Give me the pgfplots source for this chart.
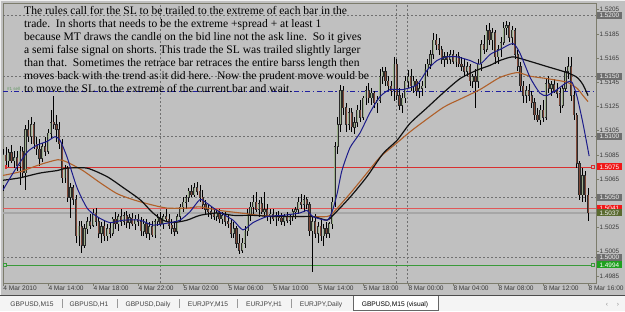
\documentclass[border=0pt]{standalone}
\usepackage{pgfplots}
\pgfplotsset{compat=1.18}
\usepackage{pgfplotstable}
\usepackage{fontspec}
\setmainfont{Liberation Sans}
\newfontfamily\tnr{Liberation Serif}
\definecolor{chartbg}{HTML}{C0C0C0}
\definecolor{axiscol}{HTML}{7C7C6C}
\definecolor{labcol}{HTML}{3A3A3A}
\definecolor{gridcol}{HTML}{707070}
\definecolor{bullfill}{HTML}{9CB08C}
\definecolor{bearfill}{HTML}{804838}
\definecolor{bodyedge}{HTML}{2A2A2A}
\definecolor{maBlue}{HTML}{1C1C8A}
\definecolor{maBrown}{HTML}{B0602A}
\definecolor{maBlack}{HTML}{101010}
\definecolor{lvlRed}{HTML}{D83030}
\definecolor{lvlRed2}{HTML}{E05858}
\definecolor{lvlGreen}{HTML}{3A9A3A}
\definecolor{lvlBlue}{HTML}{2020A0}
\definecolor{bidgray}{HTML}{A6A6A6}
\definecolor{boxgray}{HTML}{6E6E6E}
\definecolor{boxolive}{HTML}{5A6A30}
\definecolor{boxred}{HTML}{F01818}
\definecolor{boxgreen}{HTML}{20A020}
\definecolor{tabbg}{HTML}{F4F4F4}

\pgfplotstableread{
i o h l c
0 1.5060 1.5090 1.5055 1.5085
1 1.5085 1.5092 1.5076 1.5080
2 1.5080 1.5090 1.5075 1.5087
3 1.5087 1.5093 1.5078 1.5080
4 1.5080 1.5088 1.5074 1.5083
5 1.5083 1.5088 1.5072 1.5076
6 1.5076 1.5092 1.5060 1.5088
7 1.5088 1.5092 1.5066 1.5070
8 1.5070 1.5110 1.5056 1.5106
9 1.5106 1.5114 1.5096 1.5100
10 1.5100 1.5116 1.5094 1.5110
11 1.5110 1.5112 1.5090 1.5094
12 1.5094 1.5100 1.5085 1.5090
13 1.5090 1.5098 1.5076 1.5082
14 1.5082 1.5095 1.5079 1.5092
15 1.5092 1.5100 1.5084 1.5088
16 1.5088 1.5106 1.5086 1.5103
17 1.5103 1.5122 1.5098 1.5112
18 1.5112 1.5134 1.5106 1.5110
19 1.5110 1.5118 1.5096 1.5106
20 1.5106 1.5112 1.5090 1.5094
21 1.5094 1.5098 1.5062 1.5066
22 1.5066 1.5077 1.5062 1.5074
23 1.5074 1.5076 1.5046 1.5050
24 1.5050 1.5062 1.5033 1.5058
25 1.5058 1.5060 1.5044 1.5048
26 1.5048 1.5052 1.5012 1.5018
27 1.5018 1.5030 1.5010 1.5026
28 1.5026 1.5030 1.5004 1.5010
29 1.5010 1.5028 1.5008 1.5024
30 1.5024 1.5034 1.5020 1.5030
31 1.5030 1.5036 1.5024 1.5027
32 1.5027 1.5040 1.5025 1.5037
33 1.5037 1.5041 1.5026 1.5030
34 1.5030 1.5034 1.5016 1.5020
35 1.5020 1.5030 1.5012 1.5026
36 1.5026 1.5030 1.5014 1.5018
37 1.5018 1.5028 1.5014 1.5024
38 1.5024 1.5030 1.5016 1.5020
39 1.5020 1.5034 1.5018 1.5032
40 1.5032 1.5038 1.5024 1.5028
41 1.5028 1.5036 1.5022 1.5034
42 1.5034 1.5040 1.5026 1.5030
43 1.5030 1.5038 1.5027 1.5035
44 1.5035 1.5039 1.5025 1.5029
45 1.5029 1.5036 1.5024 1.5033
46 1.5033 1.5037 1.5026 1.5028
47 1.5028 1.5035 1.5023 1.5032
48 1.5032 1.5036 1.5026 1.5030
49 1.5030 1.5034 1.5018 1.5022
50 1.5022 1.5032 1.5018 1.5028
51 1.5028 1.5032 1.5016 1.5020
52 1.5020 1.5030 1.5015 1.5026
53 1.5026 1.5030 1.5017 1.5019
54 1.5019 1.5032 1.5016 1.5030
55 1.5030 1.5036 1.5026 1.5033
56 1.5033 1.5038 1.5026 1.5028
57 1.5028 1.5036 1.5024 1.5034
58 1.5034 1.5040 1.5030 1.5032
59 1.5032 1.5036 1.5024 1.5027
60 1.5027 1.5032 1.5020 1.5024
61 1.5024 1.5030 1.5018 1.5022
62 1.5022 1.5036 1.5020 1.5034
63 1.5034 1.5044 1.5030 1.5042
64 1.5042 1.5050 1.5038 1.5046
65 1.5046 1.5052 1.5040 1.5050
66 1.5050 1.5058 1.5046 1.5055
67 1.5055 1.5060 1.5050 1.5052
68 1.5052 1.5062 1.5050 1.5058
69 1.5058 1.5063 1.5052 1.5055
70 1.5055 1.5060 1.5046 1.5050
71 1.5050 1.5056 1.5040 1.5044
72 1.5044 1.5048 1.5036 1.5040
73 1.5040 1.5044 1.5034 1.5038
74 1.5038 1.5042 1.5032 1.5036
75 1.5036 1.5041 1.5031 1.5034
76 1.5034 1.5040 1.5030 1.5037
77 1.5037 1.5040 1.5029 1.5032
78 1.5032 1.5038 1.5028 1.5035
79 1.5035 1.5038 1.5026 1.5030
80 1.5030 1.5036 1.5025 1.5028
81 1.5028 1.5032 1.5016 1.5020
82 1.5020 1.5030 1.5016 1.5024
83 1.5024 1.5026 1.5008 1.5012
84 1.5012 1.5020 1.5003 1.5006
85 1.5006 1.5016 1.5004 1.5012
86 1.5012 1.5026 1.5008 1.5022
87 1.5022 1.5040 1.5018 1.5036
88 1.5036 1.5046 1.5030 1.5042
89 1.5042 1.5052 1.5036 1.5046
90 1.5046 1.5054 1.5038 1.5040
91 1.5040 1.5048 1.5034 1.5045
92 1.5045 1.5050 1.5036 1.5038
93 1.5038 1.5054 1.5034 1.5040
94 1.5040 1.5044 1.5030 1.5034
95 1.5034 1.5040 1.5028 1.5036
96 1.5036 1.5040 1.5030 1.5032
97 1.5032 1.5038 1.5026 1.5035
98 1.5035 1.5039 1.5030 1.5033
99 1.5033 1.5037 1.5027 1.5030
100 1.5030 1.5036 1.5026 1.5034
101 1.5034 1.5038 1.5029 1.5031
102 1.5031 1.5036 1.5027 1.5034
103 1.5034 1.5040 1.5030 1.5038
104 1.5038 1.5042 1.5032 1.5040
105 1.5040 1.5050 1.5036 1.5046
106 1.5046 1.5053 1.5040 1.5044
107 1.5044 1.5052 1.5038 1.5048
108 1.5048 1.5050 1.5040 1.5044
109 1.5044 1.5046 1.5018 1.5022
110 1.5022 1.5034 1.4988 1.5030
111 1.5030 1.5036 1.5016 1.5020
112 1.5020 1.5030 1.5012 1.5026
113 1.5026 1.5032 1.5014 1.5018
114 1.5018 1.5028 1.5010 1.5024
115 1.5024 1.5030 1.5016 1.5020
116 1.5020 1.5030 1.5016 1.5028
117 1.5028 1.5050 1.5024 1.5046
118 1.5046 1.5096 1.5042 1.5092
119 1.5092 1.5116 1.5086 1.5110
120 1.5110 1.5143 1.5104 1.5138
121 1.5138 1.5142 1.5118 1.5124
122 1.5124 1.5128 1.5104 1.5110
123 1.5110 1.5124 1.5106 1.5120
124 1.5120 1.5124 1.5104 1.5108
125 1.5108 1.5116 1.5102 1.5112
126 1.5112 1.5126 1.5108 1.5122
127 1.5122 1.5130 1.5112 1.5116
128 1.5116 1.5134 1.5114 1.5132
129 1.5132 1.5142 1.5126 1.5138
130 1.5138 1.5144 1.5128 1.5132
131 1.5132 1.5140 1.5126 1.5136
132 1.5136 1.5138 1.5124 1.5128
133 1.5128 1.5134 1.5120 1.5130
134 1.5130 1.5156 1.5128 1.5150
135 1.5150 1.5158 1.5144 1.5154
136 1.5154 1.5158 1.5142 1.5146
137 1.5146 1.5150 1.5138 1.5142
138 1.5142 1.5146 1.5134 1.5138
139 1.5138 1.5166 1.5130 1.5160
140 1.5160 1.5164 1.5130 1.5134
141 1.5134 1.5140 1.5122 1.5126
142 1.5126 1.5136 1.5120 1.5132
143 1.5132 1.5150 1.5128 1.5146
144 1.5146 1.5155 1.5140 1.5150
145 1.5150 1.5156 1.5138 1.5142
146 1.5142 1.5150 1.5136 1.5146
147 1.5146 1.5148 1.5134 1.5138
148 1.5138 1.5144 1.5132 1.5140
149 1.5140 1.5146 1.5134 1.5142
150 1.5142 1.5160 1.5140 1.5156
151 1.5156 1.5164 1.5150 1.5160
152 1.5160 1.5172 1.5156 1.5168
153 1.5168 1.5186 1.5164 1.5180
154 1.5180 1.5185 1.5172 1.5176
155 1.5176 1.5182 1.5168 1.5172
156 1.5172 1.5175 1.5160 1.5164
157 1.5164 1.5170 1.5158 1.5166
158 1.5166 1.5170 1.5160 1.5164
159 1.5164 1.5172 1.5160 1.5168
160 1.5168 1.5172 1.5160 1.5162
161 1.5162 1.5168 1.5158 1.5166
162 1.5166 1.5170 1.5158 1.5160
163 1.5160 1.5166 1.5154 1.5158
164 1.5158 1.5164 1.5150 1.5154
165 1.5154 1.5162 1.5150 1.5158
166 1.5158 1.5160 1.5142 1.5146
167 1.5146 1.5152 1.5140 1.5150
168 1.5150 1.5156 1.5124 1.5146
169 1.5146 1.5164 1.5140 1.5160
170 1.5160 1.5180 1.5154 1.5176
171 1.5176 1.5184 1.5168 1.5172
172 1.5172 1.5192 1.5170 1.5188
173 1.5188 1.5194 1.5176 1.5180
174 1.5180 1.5190 1.5172 1.5186
175 1.5186 1.5188 1.5160 1.5166
176 1.5166 1.5176 1.5160 1.5172
177 1.5172 1.5182 1.5166 1.5178
178 1.5178 1.5195 1.5176 1.5190
179 1.5190 1.5196 1.5184 1.5192
180 1.5192 1.5195 1.5178 1.5182
181 1.5182 1.5192 1.5176 1.5188
182 1.5188 1.5190 1.5164 1.5168
183 1.5168 1.5172 1.5154 1.5158
184 1.5158 1.5162 1.5138 1.5142
185 1.5142 1.5146 1.5128 1.5134
186 1.5134 1.5142 1.5128 1.5138
187 1.5138 1.5144 1.5130 1.5134
188 1.5134 1.5138 1.5124 1.5128
189 1.5128 1.5132 1.5114 1.5118
190 1.5118 1.5124 1.5112 1.5114
191 1.5114 1.5126 1.5110 1.5122
192 1.5122 1.5130 1.5112 1.5116
193 1.5116 1.5148 1.5114 1.5144
194 1.5144 1.5150 1.5136 1.5140
195 1.5140 1.5146 1.5134 1.5143
196 1.5143 1.5148 1.5136 1.5138
197 1.5138 1.5144 1.5132 1.5136
198 1.5136 1.5140 1.5120 1.5126
199 1.5126 1.5142 1.5124 1.5140
200 1.5140 1.5158 1.5138 1.5154
201 1.5154 1.5166 1.5148 1.5158
202 1.5158 1.5166 1.5130 1.5134
203 1.5134 1.5138 1.5114 1.5118
204 1.5118 1.5120 1.5074 1.5078
205 1.5078 1.5080 1.5048 1.5052
206 1.5052 1.5074 1.5046 1.5068
207 1.5068 1.5072 1.5046 1.5052
208 1.5052 1.5058 1.5030 1.5037
}\candles

\pgfplotstableread{
i v
0 1.5056
3.6 1.5070
8.5 1.5087
12.1 1.5093
15.6 1.5096
18.5 1.5100
20.3 1.5097
22.8 1.5083
26.3 1.5058
29.9 1.5041
33.4 1.5034
38.0 1.5029
42.7 1.5031
48.7 1.5031
53.3 1.5027
59.4 1.5029
62.9 1.5031
66.5 1.5038
70.0 1.5048
72.5 1.5045
76.1 1.5039
81.8 1.5031
85.3 1.5023
88.9 1.5029
93.9 1.5034
99.6 1.5035
105.6 1.5037
108.1 1.5039
110.2 1.5034
115.2 1.5031
117.0 1.5038
118.8 1.5053
120.5 1.5072
123.4 1.5091
126.9 1.5103
130.5 1.5120
134.0 1.5133
137.6 1.5139
142.2 1.5139
147.2 1.5143
150.8 1.5155
154.3 1.5163
157.9 1.5166
161.4 1.5166
166.0 1.5163
169.6 1.5160
173.2 1.5168
176.7 1.5172
181.3 1.5177
183.8 1.5169
187.4 1.5149
190.9 1.5136
193.4 1.5134
197.0 1.5139
200.5 1.5145
202.3 1.5145
204.1 1.5133
206.2 1.5111
208.4 1.5084
}\maFast

\pgfplotstableread{
i v
0 1.5064
6.0 1.5066
13.2 1.5070
19.2 1.5072
22.8 1.5074
29.9 1.5074
37.0 1.5067
42.7 1.5058
48.7 1.5048
53.3 1.5037
56.9 1.5031
60.4 1.5029
65.4 1.5031
70.0 1.5035
76.1 1.5037
81.8 1.5035
88.9 1.5035
96.0 1.5034
103.1 1.5034
110.2 1.5034
115.2 1.5031
117.3 1.5035
123.4 1.5050
129.4 1.5067
135.1 1.5086
140.1 1.5097
144.7 1.5111
150.8 1.5124
156.4 1.5136
162.5 1.5148
168.5 1.5155
173.2 1.5159
176.7 1.5163
181.3 1.5166
186.3 1.5163
193.4 1.5158
200.5 1.5153
204.1 1.5149
206.2 1.5143
208.0 1.5134
}\maBlackT

\pgfplotstableread{
i v
0 1.5068
6.0 1.5071
13.2 1.5077
19.6 1.5081
22.8 1.5079
28.4 1.5072
34.5 1.5062
40.5 1.5053
46.2 1.5048
52.3 1.5044
58.3 1.5041
65.4 1.5041
70.0 1.5042
77.2 1.5039
84.3 1.5037
91.4 1.5035
98.5 1.5034
105.6 1.5034
110.2 1.5034
115.2 1.5034
117.3 1.5037
123.4 1.5053
129.4 1.5070
134.0 1.5083
140.1 1.5095
145.8 1.5106
156.4 1.5124
162.5 1.5131
169.6 1.5139
176.7 1.5149
182.8 1.5153
187.4 1.5150
193.4 1.5148
200.5 1.5145
204.1 1.5140
206.2 1.5134
208.0 1.5129
}\maBrownT

\begin{document}
\frenchspacing
\begin{tikzpicture}[x=1bp,y=1bp]
\path[use as bounding box] (0,0) rectangle (625,311);
\fill[chartbg] (0,0) rectangle (625,311);
\fill[white!88!gray] (0,309.6) rectangle (625,311);
\fill[white!88!gray] (0,0) rectangle (1.4,311);
\begin{axis}[
  at={(3bp,28bp)}, anchor=south west, scale only axis,
  width=593bp, height=280bp,
  xmin=0, xmax=210.84, ymin=1.497909, ymax=1.521050,
  clip mode=individual,
  axis line style={draw=axiscol, line width=0.8bp},
  xtick={0,16,...,208},
  xticklabels={4 Mar 2010,4 Mar 14:00,4 Mar 18:00,4 Mar 22:00,5 Mar 02:00,5 Mar 06:00,5 Mar 10:00,5 Mar 14:00,5 Mar 18:00,8 Mar 00:00,8 Mar 04:00,8 Mar 08:00,8 Mar 12:00,8 Mar 16:00},
  xtick pos=left,
  ytick={1.4985,1.5005,1.5025,1.5065,1.5085,1.5105,1.5125,1.5145,1.5165,1.5185,1.5205},
  yticklabels={1.4985,1.5005,1.5025,1.5065,1.5085,1.5105,1.5125,1.5145,1.5165,1.5185,1.5205},
  ytick pos=right, yticklabel pos=right,
  tick align=outside, major tick length=3bp,
  tick style={draw=axiscol, line width=0.6bp},
  xticklabel style={font=\fontsize{6.6}{7}\selectfont, text=labcol, anchor=north west, inner sep=0pt, xshift=0.3bp},
  yticklabel style={font=\fontsize{6.4}{7}\selectfont, text=labcol, anchor=west, inner sep=0pt, xshift=0.5bp},
  scaled y ticks=false,
  candle/.style={draw=none, mark=none, forget plot,
    error bars/y dir=both, error bars/y explicit, error bars/error mark=none},
]
% grid levels
\addplot[gridcol, dash pattern=on 2bp off 2bp, line width=0.6bp] coordinates {(0,1.5000) (210.84,1.5000)};
\addplot[gridcol, dash pattern=on 2bp off 2bp, line width=0.6bp] coordinates {(0,1.5050) (210.84,1.5050)};
\addplot[gridcol, dash pattern=on 2bp off 2bp, line width=0.6bp] coordinates {(0,1.5100) (210.84,1.5100)};
\addplot[gridcol, dash pattern=on 2bp off 2bp, line width=0.6bp] coordinates {(0,1.5150) (210.84,1.5150)};
\addplot[gridcol, dash pattern=on 2bp off 2bp, line width=0.6bp] coordinates {(0,1.5200) (210.84,1.5200)};
\addplot[gridcol, dash pattern=on 2bp off 2bp, line width=0.6bp] coordinates {(56,1.497909) (56,1.521050)};
\addplot[gridcol, dash pattern=on 2bp off 2bp, line width=0.6bp] coordinates {(139.8,1.497909) (139.8,1.521050)};
\addplot[gridcol, dash pattern=on 2bp off 2bp, line width=0.6bp] coordinates {(143.6,1.497909) (143.6,1.521050)};
% order / price lines
\addplot[bidgray, line width=1.6bp] coordinates {(0,1.5037) (210.84,1.5037)};
\addplot[lvlRed2, line width=1.1bp] coordinates {(0,1.5041) (210.84,1.5041)};
\addplot[lvlRed, line width=0.8bp] coordinates {(0.7,1.5075) (209.8,1.5075)};
\addplot[lvlGreen, line width=0.8bp] coordinates {(0.7,1.4994) (209.8,1.4994)};
\addplot[lvlBlue, line width=0.9bp, dash pattern=on 5bp off 2.5bp on 1.2bp off 2.5bp] coordinates {(0,1.5137) (210.84,1.5137)};
% wicks
\addplot[candle, error bars/error bar style={line width=0.6bp, draw=black, solid}]
  table[x=i, y expr={(\thisrow{h}+\thisrow{l})/2}, y error expr={(\thisrow{h}-\thisrow{l})/2}] {\candles};
% bull bodies
\addplot[candle, restrict expr to domain={\thisrow{c}-\thisrow{o}}{0:1},
  error bars/error bar style={line width=2.2bp, draw=bodyedge, solid}]
  table[x=i, y expr={(\thisrow{o}+\thisrow{c})/2}, y error expr={abs(\thisrow{c}-\thisrow{o})/2+0.00003}] {\candles};
\addplot[candle, restrict expr to domain={\thisrow{c}-\thisrow{o}}{0:1},
  error bars/error bar style={line width=1.0bp, draw=bullfill, solid}]
  table[x=i, y expr={(\thisrow{o}+\thisrow{c})/2}, y error expr={max(abs(\thisrow{c}-\thisrow{o})/2-0.00002,0.000005)}] {\candles};
% bear bodies
\addplot[candle, restrict expr to domain={\thisrow{o}-\thisrow{c}}{0.000001:1},
  error bars/error bar style={line width=2.2bp, draw=bodyedge, solid}]
  table[x=i, y expr={(\thisrow{o}+\thisrow{c})/2}, y error expr={abs(\thisrow{c}-\thisrow{o})/2+0.00003}] {\candles};
\addplot[candle, restrict expr to domain={\thisrow{o}-\thisrow{c}}{0.000001:1},
  error bars/error bar style={line width=1.0bp, draw=bearfill, solid}]
  table[x=i, y expr={(\thisrow{o}+\thisrow{c})/2}, y error expr={max(abs(\thisrow{c}-\thisrow{o})/2-0.00002,0.000005)}] {\candles};
% moving averages
\addplot[maBrown, line width=1.1bp, smooth, tension=0.4] table[x=i, y=v] {\maBrownT};
\addplot[maBlack, line width=1.2bp, smooth, tension=0.4] table[x=i, y=v] {\maBlackT};
\addplot[maBlue, line width=1.0bp, smooth, tension=0.4] table[x=i, y=v] {\maFast};
% end markers
\node[draw=lvlRed, fill=chartbg, inner sep=0pt, minimum size=3bp, line width=0.6bp] at (axis cs:209.8,1.5075) {};
\node[draw=lvlGreen, fill=chartbg, inner sep=0pt, minimum size=3bp, line width=0.6bp] at (axis cs:209.8,1.4994) {};
\node[draw=lvlGreen, fill=chartbg, inner sep=0pt, minimum size=3bp, line width=0.6bp] at (axis cs:0.7,1.4994) {};
\node[draw=lvlRed, fill=chartbg, inner sep=0pt, minimum width=1bp, minimum height=3bp, line width=0.6bp] at (axis cs:0.9,1.5075) {};
% price boxes
\tikzset{pbox/.style={anchor=west, inner xsep=2.6bp, inner ysep=0.4bp, minimum height=7bp, xshift=0.8bp, font=\fontsize{6.4}{7}\selectfont}}
\node[pbox, fill=boxgray, text=white!90!gray] at (axis cs:210.84,1.5200) {1.5200};
\node[pbox, fill=boxgray, text=white!90!gray] at (axis cs:210.84,1.5150) {1.5150};
\node[pbox, fill=boxgray, text=white!90!gray] at (axis cs:210.84,1.5100) {1.5100};
\node[pbox, fill=boxred, text=white] at (axis cs:210.84,1.5075) {1.5075};
\node[pbox, fill=boxgray, text=white!90!gray] at (axis cs:210.84,1.5050) {1.5050};
\node[pbox, fill=boxred, text=white] at (axis cs:210.84,1.5041) {1.5041};
\node[pbox, fill=boxolive, text=white!90!gray] at (axis cs:210.84,1.5037) {1.5037};
\node[pbox, fill=boxgray, text=white!90!gray] at (axis cs:210.84,1.5000) {1.5000};
\node[pbox, fill=boxgreen, text=white] at (axis cs:210.84,1.4994) {1.4994};
\end{axis}
% comment text
\begin{scope}[every node/.style={anchor=base west, inner sep=0pt, font=\tnr\fontsize{11.6}{13}\selectfont, text=black}]
\node at (24,297) {The rules call for the SL to be trailed to the extreme of each bar in the};
\node at (24,284) {trade.\ \ In shorts that needs to be the extreme +spread + at least 1};
\node at (24,271) {because MT draws the candle on the bid line not the ask line.\ \ So it gives};
\node at (24,258) {a semi false signal on shorts. This trade the SL was trailed slightly larger};
\node at (24,245) {than that.\ \ Sometimes the retrace bar retraces the entire barss length then};
\node at (24,232) {moves back with the trend as it did here.\ \ Now the prudent move would be};
\node at (24,219) {to move the SL to the extreme of the current bar and wait.};
\end{scope}
\node[anchor=base west, inner sep=0pt, font=\fontsize{4.5}{5}\selectfont, text=gray!80!green] at (7,221) {\#1 sell};
% tab bar
\fill[tabbg] (0,0) rectangle (625,15.5);
\draw[black!70, line width=0.8bp] (0,15.6) -- (625,15.6);
\fill[white] (353,0.5) rectangle (438,15.2);
\draw[black!60, line width=0.6bp] (353,15.2) -- (353,0.6) -- (438,0.6) -- (438,15.2);
\begin{scope}[every node/.style={anchor=base, inner sep=0pt, font=\fontsize{6.7}{7}\selectfont, text=black!75}]
\node at (32,5) {GBPUSD,M15};
\node at (89,5) {GBPUSD,H1};
\node at (148,5) {GBPUSD,Daily};
\node at (208,5) {EURJPY,M15};
\node at (264,5) {EURJPY,H1};
\node at (321,5) {EURJPY,Daily};
\node[text=black] at (395,5) {GBPUSD,M15 (visual)};
\node[text=black!45] at (607,5) {‹};
\node[text=black!45] at (618,5) {›};
\end{scope}
\foreach \sx in {62,117,179,237,291} {\draw[black!40, line width=0.6bp] (\sx,3.5) -- (\sx,12);}
\end{tikzpicture}
\end{document}
